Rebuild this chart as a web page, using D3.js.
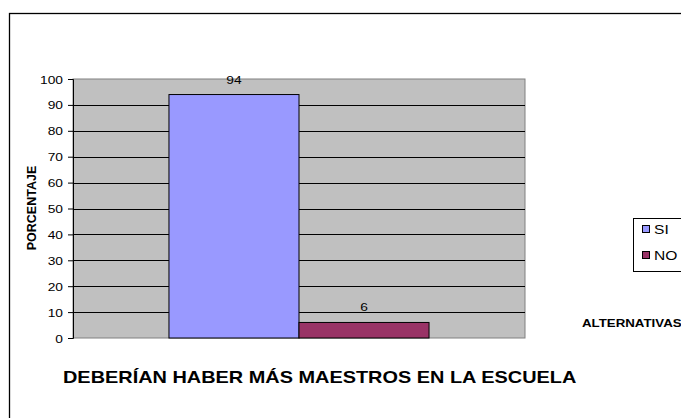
<!DOCTYPE html>
<html>
<head>
<meta charset="utf-8">
<script src="https://cdn.jsdelivr.net/npm/d3@7"></script>
<style>
body { margin: 0; background: #fff; }
text { font-family: Arial, "Liberation Sans", sans-serif; }
</style>
</head>
<body>
<div id="chart"></div>
<script>
// data
var categories = ["DEBERÍAN HABER MÁS MAESTROS EN LA ESCUELA"];
var seriesNames = ["SI", "NO"];
var seriesValues = [94, 6];
var seriesColors = ["#9999FF", "#993366"];
var yTicks = [0, 10, 20, 30, 40, 50, 60, 70, 80, 90, 100];

var W = 681, H = 418;
var plot = {left: 73, top: 79, right: 525, bottom: 338};
var sx = 1.25; // the original picture is stretched sideways

var svg = d3.select("#chart").append("svg")
  .attr("width", W).attr("height", H);

// helper: text stretched horizontally
function stext(g, x, y, str, size, bold, anchor, k) {
  return g.append("text")
    .attr("transform", "translate(" + x + "," + y + ") scale(" + (k || sx) + ",1)")
    .attr("text-anchor", anchor || "start")
    .attr("font-size", size + "px")
    .attr("font-weight", bold ? "bold" : "normal")
    .attr("fill", "#000")
    .text(str);
}

// outer frame with a little shadow
svg.append("rect").attr("x", 10).attr("y", 14).attr("width", W).attr("height", H)
  .attr("fill", "none").attr("stroke", "#999").attr("stroke-width", 2);
svg.append("rect").attr("x", 9.5).attr("y", 13.5).attr("width", W).attr("height", H)
  .attr("fill", "#fff").attr("stroke", "#000").attr("stroke-width", 1.3);

var yScale = d3.scaleLinear().domain([0, 100]).range([plot.bottom, plot.top]);

var x0 = d3.scaleBand().domain(categories)
  .range([plot.left, plot.right]).paddingInner(0).paddingOuter(0.369);
var x1 = d3.scaleBand().domain(seriesNames).range([0, x0.bandwidth()]);

// plot background
svg.append("rect")
  .attr("x", plot.left).attr("y", plot.top)
  .attr("width", plot.right - plot.left).attr("height", plot.bottom - plot.top)
  .attr("fill", "#C0C0C0").attr("stroke", "#808080").attr("stroke-width", 1);

// gridlines
svg.append("g").selectAll("line")
  .data(yTicks.filter(function(d) { return d > 0 && d < 100; }))
  .enter().append("line")
  .attr("x1", plot.left).attr("x2", plot.right)
  .attr("y1", function(d) { return Math.round(yScale(d)) + 0.5; })
  .attr("y2", function(d) { return Math.round(yScale(d)) + 0.5; })
  .attr("stroke", "#000").attr("stroke-width", 1);

// y axis
var yAxis = d3.axisLeft(yScale).tickValues(yTicks).tickSize(5).tickPadding(3);
var ga = svg.append("g")
  .attr("transform", "translate(" + plot.left + ",0)")
  .call(yAxis);
ga.select(".domain").attr("stroke", "#000");
ga.selectAll(".tick line").attr("stroke", "#000");
ga.selectAll(".tick text")
  .attr("x", null).attr("dy", null)
  .attr("transform", "translate(-10,4) scale(" + sx + ",1)")
  .attr("font-size", "11px").attr("fill", "#000")
  .attr("font-family", "Arial, 'Liberation Sans', sans-serif");

// bars
var bars = svg.append("g");
seriesNames.forEach(function(s, i) {
  var xb = x0(categories[0]) + x1(s);
  bars.append("rect")
    .attr("x", xb).attr("y", yScale(seriesValues[i]))
    .attr("width", x1.bandwidth())
    .attr("height", yScale(0) - yScale(seriesValues[i]))
    .attr("fill", seriesColors[i]).attr("stroke", "#000").attr("stroke-width", 1);
  stext(bars, xb + x1.bandwidth() / 2, yScale(seriesValues[i]) - 11,
    seriesValues[i], 11, false, "middle");
});

// axis labels
svg.append("text")
  .attr("transform", "translate(36,208) rotate(-90)")
  .attr("text-anchor", "middle").attr("font-size", "12.5px").attr("font-weight", "bold")
  .text("PORCENTAJE");

stext(svg, 582, 327, "ALTERNATIVAS", 10, true, "start", 1.33);
stext(svg, 63, 383, categories[0], 16, true, "start", 1.245);

// legend
var lg = svg.append("g");
lg.append("rect").attr("x", 633.5).attr("y", 218.5).attr("width", 48).attr("height", 53)
  .attr("fill", "#fff").attr("stroke", "#000");
seriesNames.forEach(function(s, i) {
  var yy = 229 + i * 26;
  lg.append("rect").attr("x", 642.5).attr("y", yy - 3.5).attr("width", 7).attr("height", 7)
    .attr("fill", seriesColors[i]).attr("stroke", "#000");
  stext(lg, 654, yy + 4.5, s, 12, false, "start", 1.3);
});
</script>
</body>
</html>
